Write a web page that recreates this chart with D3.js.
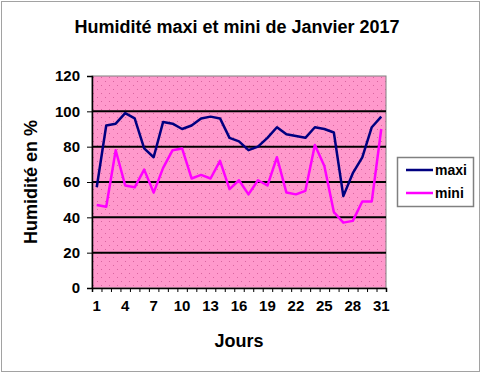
<!DOCTYPE html>
<html>
<head>
<meta charset="utf-8">
<script src="https://cdn.jsdelivr.net/npm/d3@7"></script>
<style>
  body { margin: 0; background: #fff; }
  text { font-family: "Liberation Sans", Arial, sans-serif; font-weight: bold; fill: #000; }
</style>
</head>
<body>
<svg id="chart" width="482" height="375"></svg>
<script>
var jours = d3.range(1, 32);
var maxi = [57, 92, 93, 99, 96, 79, 74, 94, 93, 90, 92, 96, 97, 96, 85, 83,
            78, 80, 85, 91, 87, 86, 85, 91, 90, 88, 52, 65, 74, 91, 97];
var mini = [47, 46, 78, 58, 57, 67, 54, 68, 78, 79, 62, 64, 62, 72, 56, 61,
            53, 61, 58, 74, 54, 53, 55, 81, 69, 43, 37, 38, 49, 49, 90];
var yTicks = [0, 20, 40, 60, 80, 100, 120];
var xLabels = [1, 4, 7, 10, 13, 16, 19, 22, 25, 28, 31];

var pLeft = 92, pRight = 386, pTop = 76, pBottom = 288;
var svg = d3.select("#chart");

// outer dashed frame
svg.append("rect")
    .attr("x", 1.5).attr("y", 1.5)
    .attr("width", 478).attr("height", 370)
    .attr("fill", "none")
    .attr("stroke", "#444")
    .attr("stroke-dasharray", "1,1");

// dotted pink fill
var pat = svg.append("defs").append("pattern")
    .attr("id", "dots")
    .attr("patternUnits", "userSpaceOnUse")
    .attr("width", 8).attr("height", 8);
pat.append("rect").attr("width", 8).attr("height", 8).attr("fill", "#FF99CC");
pat.append("rect").attr("x", 1).attr("y", 1).attr("width", 1).attr("height", 1).attr("fill", "#d9649f");
pat.append("rect").attr("x", 5).attr("y", 5).attr("width", 1).attr("height", 1).attr("fill", "#d9649f");

var x = d3.scaleBand().domain(jours).range([pLeft, pRight]).padding(0);
var xEdge = d3.scaleLinear().domain([0, 31]).range([pLeft, pRight]);
var y = d3.scaleLinear().domain([0, 120]).range([pBottom, pTop]);

svg.append("rect")
    .attr("x", pLeft).attr("y", pTop)
    .attr("width", pRight - pLeft).attr("height", pBottom - pTop)
    .attr("fill", "url(#dots)")
    .attr("stroke", "#808080")
    .attr("stroke-width", 1);

// grid lines
svg.append("g").selectAll("line")
    .data(yTicks.filter(d => d > 0 && d < 120))
    .enter().append("line")
    .attr("x1", pLeft).attr("x2", pRight)
    .attr("y1", d => y(d)).attr("y2", d => y(d))
    .attr("stroke", "#000")
    .attr("stroke-width", 2);

// y axis
var yAxis = svg.append("g")
    .attr("transform", "translate(" + pLeft + ",0)")
    .call(d3.axisLeft(y).tickValues(yTicks).tickSize(5).tickPadding(7));
yAxis.select(".domain").attr("stroke", "#000").attr("stroke-width", 1.5);
yAxis.selectAll("text").style("font-size", "15px").attr("fill", "#000");

// x axis: ticks between categories, labels at centres
var xTickAxis = svg.append("g")
    .attr("transform", "translate(0," + pBottom + ")")
    .call(d3.axisBottom(xEdge).tickValues(d3.range(32)).tickSize(4).tickFormat(""));
xTickAxis.select(".domain").attr("stroke", "#000").attr("stroke-width", 1.5);

var xLab = svg.append("g")
    .attr("transform", "translate(0," + pBottom + ")")
    .call(d3.axisBottom(x).tickValues(xLabels).tickSize(0).tickPadding(12));
xLab.select(".domain").remove();
xLab.selectAll("text").style("font-size", "15px").attr("fill", "#000");

// series
var line = d3.line()
    .x((d, i) => x(jours[i]) + x.bandwidth() / 2)
    .y(d => y(d));

svg.append("path").datum(mini)
    .attr("d", line)
    .attr("fill", "none")
    .attr("stroke", "#FF00FF")
    .attr("stroke-width", 2.5)
    .attr("stroke-linejoin", "round");

svg.append("path").datum(maxi)
    .attr("d", line)
    .attr("fill", "none")
    .attr("stroke", "#000080")
    .attr("stroke-width", 2.5)
    .attr("stroke-linejoin", "round");

// titles
svg.append("text")
    .attr("x", 237).attr("y", 33)
    .attr("text-anchor", "middle")
    .style("font-size", "18px")
    .text("Humidité maxi et mini de Janvier 2017");

svg.append("text")
    .attr("transform", "translate(37,182) rotate(-90)")
    .attr("text-anchor", "middle")
    .style("font-size", "18px")
    .text("Humidité en %");

svg.append("text")
    .attr("x", 239).attr("y", 347)
    .attr("text-anchor", "middle")
    .style("font-size", "18px")
    .text("Jours");

// legend
var legend = svg.append("g");
legend.append("rect")
    .attr("x", 397.5).attr("y", 157.5)
    .attr("width", 76).attr("height", 49)
    .attr("fill", "#fff")
    .attr("stroke", "#808080")
    .attr("stroke-width", 1.5);

var series = [{ name: "maxi", color: "#000080" }, { name: "mini", color: "#FF00FF" }];
var items = legend.selectAll("g.item").data(series).enter().append("g")
    .attr("transform", (d, i) => "translate(0," + (170 + i * 23) + ")");
items.append("line")
    .attr("x1", 406).attr("x2", 433)
    .attr("stroke", d => d.color)
    .attr("stroke-width", 2.5);
items.append("text")
    .attr("x", 435).attr("y", 5)
    .style("font-size", "14px")
    .text(d => d.name);
</script>
</body>
</html>
